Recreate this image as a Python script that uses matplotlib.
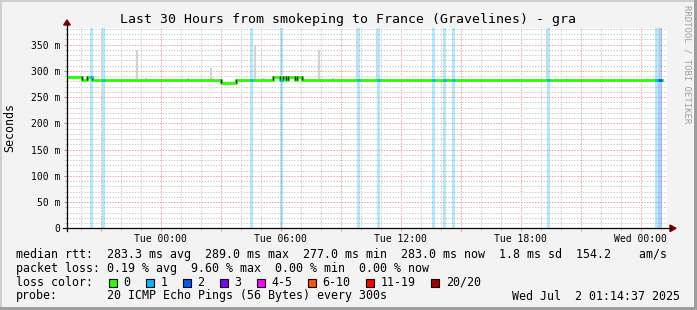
import numpy as np
import matplotlib.pyplot as plt
from matplotlib.patches import Rectangle, Polygon
from matplotlib.lines import Line2D

# time axis in hours relative to Tue 00:00, 30 hours shown
t_start = -4.69
t_end = t_start + 30

# median rtt in ms, piecewise constant (value holds until next time)
med_t = [-4.69, -3.95, -3.70, -3.45, 3.00, 3.78, 5.60, 5.95, 6.12, 6.25,
         6.38, 6.70, 6.80, 7.05, 25.05]
med_v = [289, 283, 289, 283, 277, 283, 289, 283, 289, 283,
         289, 283, 289, 283, 283]

# packet loss periods (start hour, lost pings of 20)
loss_t = [-3.55, -2.93, 4.45, 5.95, 9.82, 10.82, 13.55, 14.10, 14.55,
          19.32, 24.70, 24.88]
loss_n = [1, 1, 1, 1, 1, 1, 1, 1, 1, 1, 1, 2]

# smoke (spread of ping rtts) tops, ms
smoke_t = [-1.2, -0.72, 1.35, 2.5, 4.72, 5.1, 7.9, 8.6, 14.35, 17.6, 18.6, 20.35]
smoke_top = [340, 287, 286, 305, 347, 287, 340, 287, 286, 285, 285, 285]
spike_t = [-2.97, 9.78, 10.78, 19.28, 24.85]  # smoke going off the chart

tick_hours = [0, 6, 12, 18, 24]
tick_labels = ["Tue 00:00", "Tue 06:00", "Tue 12:00", "Tue 18:00", "Wed 00:00"]
y_ticks = [0, 50, 100, 150, 200, 250, 300, 350]
y_labels = ["0", "50 m", "100 m", "150 m", "200 m", "250 m", "300 m", "350 m"]

loss_names = ["0", "1", "2", "3", "4-5", "6-10", "11-19", "20/20"]
loss_colors = ["#26ff00", "#00b8ff", "#0059ff", "#7e00ff", "#ff00ff",
               "#ff5500", "#ff0000", "#a10000"]

stats_rtt = "median rtt:  283.3 ms avg  289.0 ms max  277.0 ms min  283.0 ms now  1.8 ms sd  154.2    am/s"
stats_loss = "packet loss: 0.19 % avg  9.60 % max  0.00 % min  0.00 % now"
probe_txt = "20 ICMP Echo Pings (56 Bytes) every 300s"
date_txt = "Wed Jul  2 01:14:37 2025"
title = "Last 30 Hours from smokeping to France (Gravelines) - gra"

mono = "DejaVu Sans Mono"
W, H = 697, 310


def fx(x):
    return x / W


def fy(y):
    return 1 - y / H


fig = plt.figure(figsize=(W / 100, H / 100), dpi=100)
fig.patch.set_facecolor("#f3f3f3")

# 3d-ish frame
fig.patches.append(Rectangle((0, fy(2)), 1, 2 / H, transform=fig.transFigure, color="#cfcfcf", lw=0))
fig.patches.append(Rectangle((0, 0), 2 / W, 1, transform=fig.transFigure, color="#cfcfcf", lw=0))
fig.patches.append(Rectangle((fx(694), 0), 3 / W, 1, transform=fig.transFigure, color="#9e9e9e", lw=0))
fig.patches.append(Rectangle((0, 0), 1, 3 / H, transform=fig.transFigure, color="#9e9e9e", lw=0))

ax = fig.add_axes([fx(67), fy(228.3), (667 - 67) / W, (228.3 - 28) / H])
ax.set_facecolor("white")
ax.set_xlim(t_start, t_end)
ax.set_ylim(0, 381.6)

# grid
ax.set_xticks(np.arange(-3, 26, 3))
ax.set_xticks(np.arange(-4, 26, 1), minor=True)
ax.set_xticklabels([tick_labels[tick_hours.index(h)] if h in tick_hours else ""
                    for h in range(-3, 26, 3)])
ax.set_yticks(y_ticks)
ax.set_yticklabels(y_labels)
ax.set_yticks(np.arange(0, 381, 10), minor=True)
ax.grid(which="minor", color="#cccccc", lw=0.72, ls=(0, (1.4, 1.4)))
ax.grid(which="major", color="#f2a0a0", lw=0.72, ls=(0, (1.4, 1.4)))
ax.set_axisbelow(True)
ax.tick_params(which="major", direction="out", length=2, width=0.72, color="#e09090",
               labelsize=7, pad=2)
ax.tick_params(which="minor", direction="out", length=1.5, width=0.72, color="#b0b0b0")
ax.tick_params(axis="y", which="major", color="#909090", pad=3)
for lab in ax.get_xticklabels() + ax.get_yticklabels():
    lab.set_family(mono)
for s in ax.spines.values():
    s.set_visible(False)

# loss bands
band_w = 0.16
for t0, n in zip(loss_t, loss_n):
    ax.axvspan(t0, t0 + band_w, color=loss_colors[n], alpha=0.3, lw=0, zorder=1)

# smoke
med_at = lambda t: med_v[np.searchsorted(med_t, t, side="right") - 1]
ax.vlines(smoke_t, [med_at(t) for t in smoke_t], smoke_top, color="#d2d2d2", lw=1.5, zorder=2)
ax.vlines(spike_t, [med_at(t) for t in spike_t], 381.6, color="#d4d4d4", lw=0.8, zorder=2)

# median line
ax.step(med_t, med_v, where="post", color=loss_colors[0], lw=2.0, zorder=4)
for i in range(1, len(med_t)):
    if med_v[i] != med_v[i - 1]:
        ax.vlines(med_t[i], min(med_v[i], med_v[i - 1]) - 1, max(med_v[i], med_v[i - 1]) + 1,
                  color="#202020", lw=1.0, zorder=5)
for t0, n in zip(loss_t, loss_n):
    ax.hlines(med_at(t0 + 0.02), t0, t0 + band_w, color=loss_colors[n], lw=2.0, zorder=5)

# axes with arrows
fig.add_artist(Line2D([fx(63), fx(671)], [fy(228.3), fy(228.3)], color="black", lw=0.9))
fig.add_artist(Line2D([fx(67), fx(67)], [fy(231), fy(24)], color="black", lw=0.9))
fig.patches.append(Polygon([(fx(670), fy(225)), (fx(670), fy(231.6)), (fx(676), fy(228.3))],
                           closed=True, transform=fig.transFigure, color="#7f0000"))
fig.patches.append(Polygon([(fx(63.7), fy(25)), (fx(70.3), fy(25)), (fx(67), fy(20))],
                           closed=True, transform=fig.transFigure, color="#7f0000"))

# texts
fig.text(fx(348), fy(19.3), title, ha="center", va="center", fontsize=9.5, family=mono)
fig.text(fx(10), fy(128), "Seconds", rotation=90, ha="center", va="center", fontsize=8.4, family=mono)
fig.text(fx(687), fy(5), "RRDTOOL / TOBI OETIKER", rotation=270, ha="center", va="top",
         fontsize=6.5, color="#a0a0a0", family=mono)

fig.text(fx(16), fy(254.3), stats_rtt, ha="left", va="center", fontsize=8.4, family=mono)
fig.text(fx(16), fy(268.3), stats_loss, ha="left", va="center", fontsize=8.4, family=mono)
fig.text(fx(16), fy(282.3), "loss color:", ha="left", va="center", fontsize=8.4, family=mono)
fig.text(fx(16), fy(296), "probe:", ha="left", va="center", fontsize=8.4, family=mono)
fig.text(fx(107.3), fy(296), probe_txt, ha="left", va="center", fontsize=8.4, family=mono)
fig.text(fx(680), fy(296), date_txt, ha="right", va="center", fontsize=8.4, family=mono)

xb = 108.5
for name, col in zip(loss_names, loss_colors):
    fig.patches.append(Rectangle((fx(xb), fy(286.5)), 8 / W, 8 / H, transform=fig.transFigure,
                                 facecolor=col, edgecolor="black", lw=0.8))
    fig.text(fx(xb + 15), fy(282.3), name, ha="left", va="center", fontsize=8.4, family=mono)
    xb += 30 + 7.02 * len(name)

fig.savefig("out.png", dpi=100, facecolor=fig.get_facecolor())
